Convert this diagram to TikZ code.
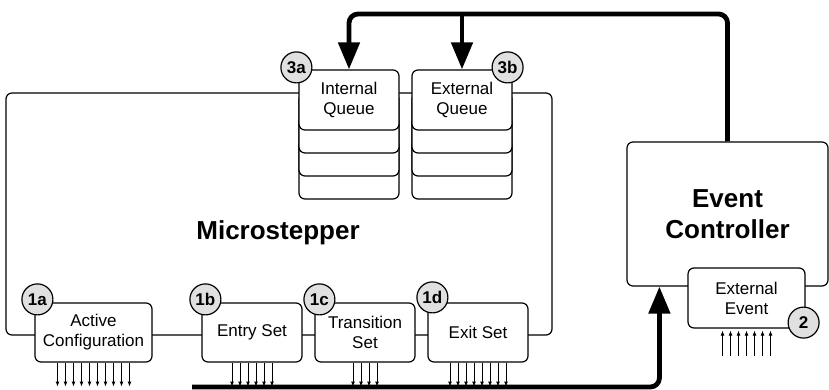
\documentclass[tikz,border=0pt]{standalone}
\usepackage{fontspec}
\setmainfont{Liberation Sans}
\usetikzlibrary{arrows.meta,positioning}
\begin{document}
\begin{tikzpicture}[x=1pt, y=-1pt, line width=1.2pt, line join=round,
	box/.style={draw, fill=white, rounded corners=6pt, align=center, inner sep=0pt,
		font=\fontsize{17}{20}\selectfont},
	layer/.style={draw, fill=white, rounded corners=6pt},
	badge/.style={draw, circle, fill=black!12, minimum size=31pt, inner sep=0pt,
		font=\bfseries\fontsize{17}{17}\selectfont},
	flow/.style={line width=4.8pt, rounded corners=9pt, -{Triangle[length=27pt,width=21pt]}},
	tick/.style={line width=0.9pt, -{Latex[length=5pt,width=4pt]}}]
	\useasboundingbox (0,0) rectangle (829,390);
	% microstepper frame
	\node[draw, rounded corners=6pt, minimum width=546pt, minimum height=242pt] (ms) at (279,214) {};
	\node[font=\bfseries\fontsize{26}{30}\selectfont] (mslabel) at (278,233) {Microstepper};
	% queues
	\foreach \cx in {349,462}
		\foreach \d in {69,46,23}
			\draw[layer] (\cx-50,70+\d) rectangle (\cx+50,130+\d);
	\node[box, minimum width=100pt, minimum height=60pt] (iq) at (349,100) {Internal\\Queue};
	\node[box, minimum width=100pt, minimum height=60pt] (eq) at (462,100) {External\\Queue};
	% sets
	\node[box, minimum width=117pt, minimum height=59pt] (ac) at (93.5,332.5) {Active\\Configuration};
	\node[box, minimum width=100pt, minimum height=59pt] (es) at (252,332.5) {Entry Set};
	\node[box, minimum width=100pt, minimum height=59pt] (ts) at (365,332.5) {Transition\\Set};
	\node[box, minimum width=100pt, minimum height=59pt] (xs) at (478,332.5) {Exit Set};
	% event controller
	\node[box, minimum width=201pt, minimum height=144pt, font=\bfseries\fontsize{26}{31}\selectfont]
		(ec) at (727.5,214) {Event\\Controller};
	\node[box, minimum width=117pt, minimum height=60pt] (ee) at (746.5,298) {External\\Event};
	% badges
	\node[badge] (b1a) at ([xshift=3pt,yshift=3pt]ac.north west) {1a};
	\node[badge] (b1b) at ([xshift=4pt,yshift=3pt]es.north west) {1b};
	\node[badge] (b1c) at ([xshift=5pt,yshift=3pt]ts.north west) {1c};
	\node[badge] (b1d) at ([xshift=5pt,yshift=5pt]xs.north west) {1d};
	\node[badge] (b3a) at ([xshift=-2pt,yshift=2pt]iq.north west) {3a};
	\node[badge] (b3b) at ([xshift=-5pt,yshift=2pt]eq.north east) {3b};
	\node[badge] (b2) at ([xshift=-2pt,yshift=6pt]ee.south east) {2};
	% outputs and inputs
	\foreach \n/\k in {ac/10, es/6, ts/4, xs/8}
		\foreach \i in {1,...,\k}
			\draw[tick] ([xshift={(\i-(\k+1)/2)*8}]\n.south) -- ++(0,24);
	\foreach \i in {1,...,7}
		\draw[tick] ([xshift={(\i-4)*8},yshift=-27pt]ee.south) -- ([xshift={(\i-4)*8},yshift=-2pt]ee.south);
	% event flow
	\coordinate (rail) at (0,14);
	\coordinate (bus) at (192,387);
	\coordinate (ecin) at ([xshift=33pt]ec.south west);
	\draw[flow] (ec.north) -- (ec.north |- rail) -| (iq.north);
	\draw[flow] (eq.north |- rail) -- (eq.north);
	\draw[flow] (bus) -| (ecin);
\end{tikzpicture}
\end{document}
